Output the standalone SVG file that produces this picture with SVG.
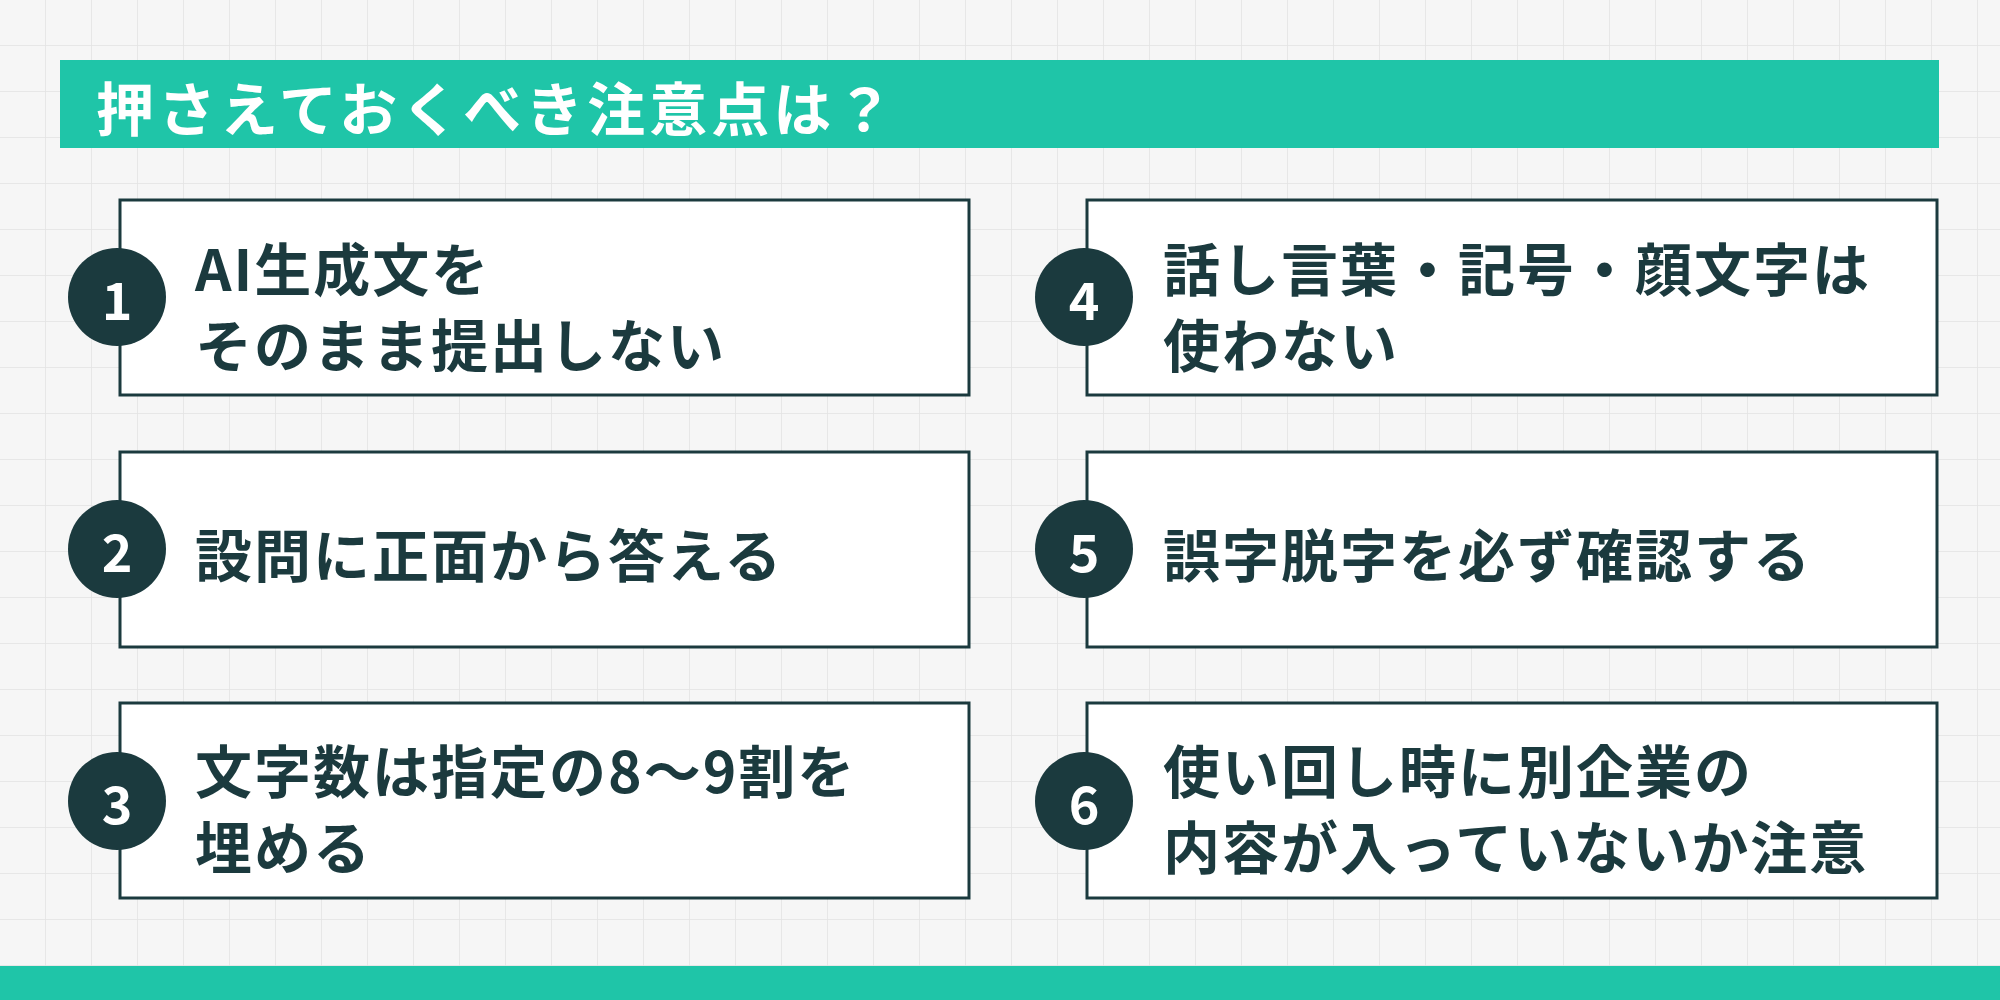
<svg xmlns="http://www.w3.org/2000/svg" width="2000" height="1000" viewBox="0 0 2000 1000">
<defs>
<pattern id="grid" width="46" height="46" patternUnits="userSpaceOnUse">
<rect width="46" height="46" fill="#f6f6f6"/>
<path d="M46 0V46M0 46H46" stroke="#e3e3e3" stroke-width="1.5" fill="none"/>
</pattern>
<style>
.box{fill:#fff;stroke:#1b3a3e;stroke-width:3}
.num{fill:#1b3a3e}
.nt{fill:#fff;font-family:"Noto Sans CJK JP","Noto Sans",sans-serif;font-weight:700;font-size:52px;text-anchor:middle;dominant-baseline:central}
.t{fill:#1b3a3e;font-family:"Noto Sans CJK JP",sans-serif;font-weight:700;font-size:57px;letter-spacing:2px;dominant-baseline:central}
</style>
</defs>
<rect width="2000" height="1000" fill="url(#grid)"/>
<g id="header">
<rect x="60" y="60" width="1879" height="88" fill="#1fc5a8"/>
<text x="96" y="106" fill="#fff" font-family="'Noto Sans CJK JP',sans-serif" font-weight="700" font-size="58" letter-spacing="4" dominant-baseline="central">押さえておくべき注意点は？</text>
</g>
<g id="n1"><rect class="box" x="120" y="200" width="849" height="195"/><circle class="num" cx="117" cy="297" r="49"/><text class="nt" x="117" y="297">1</text>
<text class="t" x="195" y="266">AI生成文を</text><text class="t" x="195" y="342">そのまま提出しない</text></g>
<g id="n2"><rect class="box" x="120" y="452" width="849" height="195"/><circle class="num" cx="117" cy="549" r="49"/><text class="nt" x="117" y="549">2</text>
<text class="t" x="195" y="552">設問に正面から答える</text></g>
<g id="n3"><rect class="box" x="120" y="703" width="849" height="195"/><circle class="num" cx="117" cy="801" r="49"/><text class="nt" x="117" y="801">3</text>
<text class="t" x="195" y="768">文字数は指定の8〜9割を</text><text class="t" x="195" y="844">埋める</text></g>
<g id="n4"><rect class="box" x="1087" y="200" width="850" height="195"/><circle class="num" cx="1084" cy="297" r="49"/><text class="nt" x="1084" y="297">4</text>
<text class="t" x="1163" y="266">話し言葉・記号・顔文字は</text><text class="t" x="1163" y="342">使わない</text></g>
<g id="n5"><rect class="box" x="1087" y="452" width="850" height="195"/><circle class="num" cx="1084" cy="549" r="49"/><text class="nt" x="1084" y="549">5</text>
<text class="t" x="1163" y="552">誤字脱字を必ず確認する</text></g>
<g id="n6"><rect class="box" x="1087" y="703" width="850" height="195"/><circle class="num" cx="1084" cy="801" r="49"/><text class="nt" x="1084" y="801">6</text>
<text class="t" x="1163" y="768">使い回し時に別企業の</text><text class="t" x="1163" y="844">内容が入っていないか注意</text></g>
<g id="connectors"/>
<rect x="0" y="966" width="2000" height="34" fill="#1fc5a8"/>
</svg>
